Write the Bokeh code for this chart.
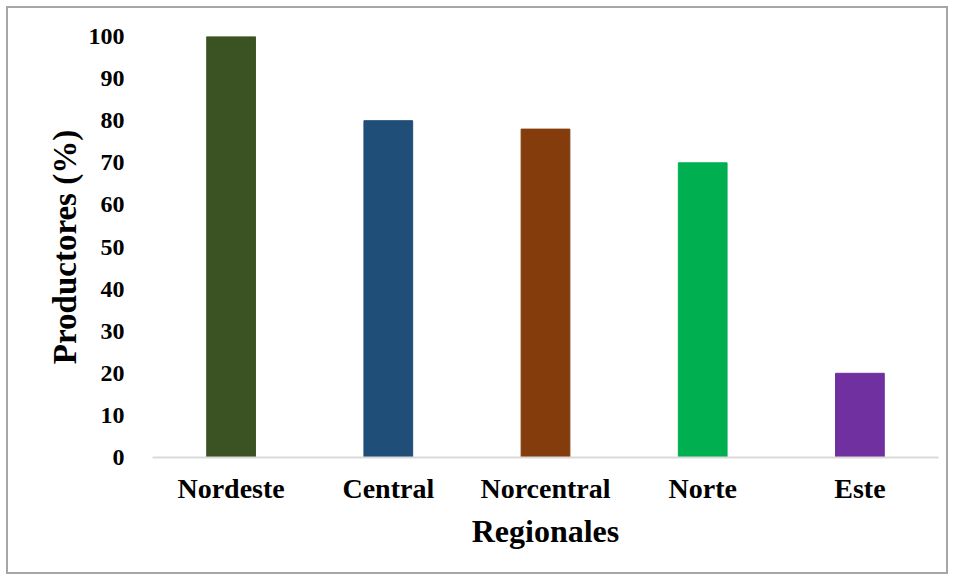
from bokeh.plotting import figure
from bokeh.models import Range1d, FixedTicker
from bokeh.embed import file_html
from bokeh.resources import INLINE

regions = ["Nordeste", "Central", "Norcentral", "Norte", "Este"]
producers_pct = [100, 80, 78, 70, 20]
bar_colors = ["#3b5323", "#1f4e79", "#843c0c", "#00b050", "#7030a0"]
y_ticks = [0, 10, 20, 30, 40, 50, 60, 70, 80, 90, 100]

SERIF = "Liberation Serif"

p = figure(
    x_range=regions,
    y_range=Range1d(0, 100),
    width=942,
    height=568,
    output_backend="svg",
    toolbar_location=None,
    min_border_left=144,
    min_border_right=12,
    min_border_top=28,
    min_border_bottom=119,
)
p.margin = (6, 0, 0, 6)
p.styles = {"border": "2px solid #a6a6a6"}

p.vbar(x=regions, top=producers_pct, width=0.31, color=bar_colors)

# axes
p.xaxis.axis_line_color = "#d9d9d9"
p.xaxis.axis_line_width = 2
p.xaxis.major_tick_line_color = None
p.xaxis.minor_tick_line_color = None
p.xaxis.major_label_text_font = SERIF
p.xaxis.major_label_text_font_style = "bold"
p.xaxis.major_label_text_font_size = "28px"
p.xaxis.major_label_text_color = "black"
p.xaxis.major_label_standoff = 9
p.xaxis.axis_label = "Regionales"
p.xaxis.axis_label_text_font = SERIF
p.xaxis.axis_label_text_font_style = "bold"
p.xaxis.axis_label_text_font_size = "32px"
p.xaxis.axis_label_text_color = "black"
p.xaxis.axis_label_standoff = 6

p.yaxis.ticker = FixedTicker(ticks=y_ticks)
p.yaxis.axis_line_color = None
p.yaxis.major_tick_line_color = None
p.yaxis.minor_tick_line_color = None
p.yaxis.major_label_text_font = SERIF
p.yaxis.major_label_text_font_style = "bold"
p.yaxis.major_label_text_font_size = "24px"
p.yaxis.major_label_text_color = "black"
p.yaxis.major_label_standoff = 22
p.yaxis.axis_label = "Productores (%)"
p.yaxis.axis_label_text_font = SERIF
p.yaxis.axis_label_text_font_style = "bold"
p.yaxis.axis_label_text_font_size = "33px"
p.yaxis.axis_label_text_color = "black"
p.yaxis.axis_label_standoff = 3

p.xgrid.grid_line_color = None
p.ygrid.grid_line_color = None
p.outline_line_color = None
p.background_fill_color = "white"
p.border_fill_color = "white"

open("out.html", "w").write(file_html(p, INLINE))
